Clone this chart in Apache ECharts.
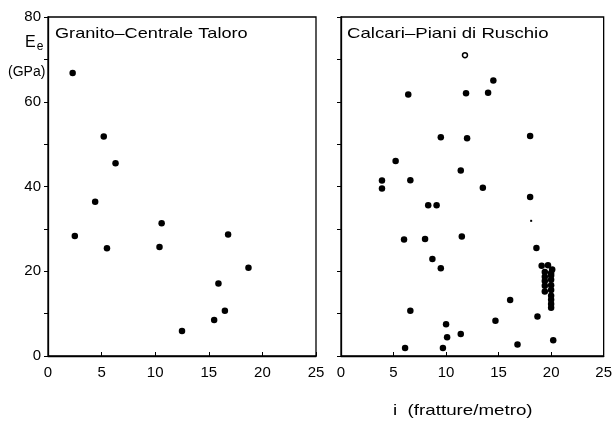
<!DOCTYPE html>
<html>
<head>
<meta charset="utf-8">
<script src="https://cdn.jsdelivr.net/npm/echarts@6/dist/echarts.min.js"></script>
<style>
  html, body { margin: 0; padding: 0; background: #fff; }
  #chart { width: 615px; height: 421px; }
</style>
</head>
<body>
<div id="chart"></div>
<script>
// Fracture frequency i (fractures per metre) against elastic modulus Ee (GPa)
const panelTitles = ['Granito\u2013Centrale Taloro', 'Calcari\u2013Piani di Ruschio'];
const xTicks = [0, 5, 10, 15, 20, 25];
const yTicks = [0, 20, 40, 60, 80];

// Granite — Centrale Taloro
const graniteI = [2.3, 5.2, 6.3, 4.4, 2.5, 5.5, 10.6, 10.4, 16.8, 18.7, 15.9, 16.5, 15.5, 12.5];
const graniteE = [66.8, 51.8, 45.5, 36.4, 28.3, 25.4, 31.3, 25.7, 28.7, 20.8, 17.1, 10.7, 8.5, 5.9];

// Limestone — Piani di Ruschio (filled dots)
const limestoneI = [14.5, 6.4, 11.9, 14.0, 9.5, 12.0, 18.0, 5.2, 11.4, 3.9, 6.6, 3.9, 13.5, 18.0,
  8.3, 9.1, 6.0, 8.0, 11.5, 18.6, 8.7, 9.5,
  19.1, 19.7, 19.4, 19.4, 19.4, 19.4, 19.4,
  20.1, 20.0, 20.0, 20.0, 20.0, 20.0, 20.0, 20.0, 20.0, 20.0,
  6.6, 16.1, 18.7, 14.7, 10.0, 10.1, 11.4, 20.2, 16.8, 6.1, 9.7];
const limestoneE = [65.0, 61.7, 62.0, 62.1, 51.6, 51.4, 51.9, 46.0, 43.8, 41.4, 41.5, 39.5, 39.7, 37.5,
  35.6, 35.6, 27.5, 27.6, 28.2, 25.5, 22.9, 20.7,
  21.3, 21.4, 19.8, 18.7, 17.7, 16.6, 15.2,
  20.4, 19.6, 19.0, 18.0, 16.7, 15.6, 14.2, 13.3, 12.3, 11.4,
  10.7, 13.2, 9.3, 8.3, 7.5, 4.4, 5.2, 3.7, 2.7, 1.9, 1.9];

// Limestone — open circle and a faint speck
const openI = [11.8];
const openE = [71.0];
const speckI = [18.1];
const speckE = [31.9];

const zip = (a, b) => a.map((v, k) => [v, b[k]]);

const font = '"Liberation Sans", Arial, sans-serif';
const black = '#000';

function xAxisFor(gridIndex) {
  return {
    gridIndex, type: 'value', min: 0, max: 25, interval: 5,
    axisLine: { show: true, lineStyle: { color: black, width: 1.3 } },
    axisTick: { show: true, inside: true, length: 4, lineStyle: { color: black } },
    axisLabel: { color: black, fontFamily: font, fontSize: 15, margin: 9,
      formatter: v => xTicks.includes(v) ? String(v) : '' },
    splitLine: { show: false }
  };
}
function yAxisFor(gridIndex, labelled) {
  return {
    gridIndex, type: 'value', min: 0, max: 80, interval: 10,
    axisLine: { show: true, lineStyle: { color: black, width: 1.3 } },
    axisTick: { show: true, inside: false, length: 4, lineStyle: { color: black } },
    axisLabel: { show: labelled, color: black, fontFamily: font, fontSize: 15, margin: 7,
      formatter: v => yTicks.includes(v) ? String(v) : '' },
    splitLine: { show: false }
  };
}

// Wide-set lettering: normal glyph height, stretched horizontally
function wideText(x, y, text, size, stretch) {
  return { type: 'text', x, y, scaleX: stretch, scaleY: 1,
    style: { text, font: size + 'px ' + font, fill: black, textVerticalAlign: 'top' } };
}

const dot = { color: black, opacity: 1 };

const chart = echarts.init(document.getElementById('chart'), null, { renderer: 'canvas' });
chart.setOption({
  animation: false,
  backgroundColor: '#fff',
  grid: [
    { left: 48, right: 299, top: 17, bottom: 65, show: true, borderColor: black, borderWidth: 1.3, backgroundColor: 'transparent' },
    { left: 341, right: 8, top: 17, bottom: 65, show: true, borderColor: black, borderWidth: 1.3, backgroundColor: 'transparent' }
  ],
  xAxis: [xAxisFor(0), xAxisFor(1)],
  yAxis: [yAxisFor(0, true), yAxisFor(1, false)],
  series: [
    { type: 'scatter', xAxisIndex: 0, yAxisIndex: 0, data: zip(graniteI, graniteE),
      symbol: 'circle', symbolSize: 6.5, itemStyle: dot },
    { type: 'scatter', xAxisIndex: 1, yAxisIndex: 1, data: zip(limestoneI, limestoneE),
      symbol: 'circle', symbolSize: 6.5, itemStyle: dot },
    { type: 'scatter', xAxisIndex: 1, yAxisIndex: 1, data: zip(openI, openE),
      symbol: 'circle', symbolSize: 5, itemStyle: { color: '#fff', borderColor: black, borderWidth: 1.5, opacity: 1 } },
    { type: 'scatter', xAxisIndex: 1, yAxisIndex: 1, data: zip(speckI, speckE),
      symbol: 'rect', symbolSize: 2, itemStyle: dot }
  ],
  graphic: [
    wideText(55, 26, panelTitles[0], 15, 1.21),
    wideText(347, 26, panelTitles[1], 15, 1.24),
    { type: 'text', left: 25, top: 35, style: {
        text: '{e|E}{s|e}', rich: { e: { fontFamily: font, fontSize: 16, color: black },
                                   s: { fontFamily: font, fontSize: 12, color: black, padding: [8, 0, 0, 1] } } } },
    { type: 'text', left: 8, top: 65, style: { text: '(GPa)', font: '14px ' + font, fill: black } },
    wideText(393, 403, 'i  (fratture/metro)', 15, 1.25)
  ]
});
</script>
</body>
</html>
